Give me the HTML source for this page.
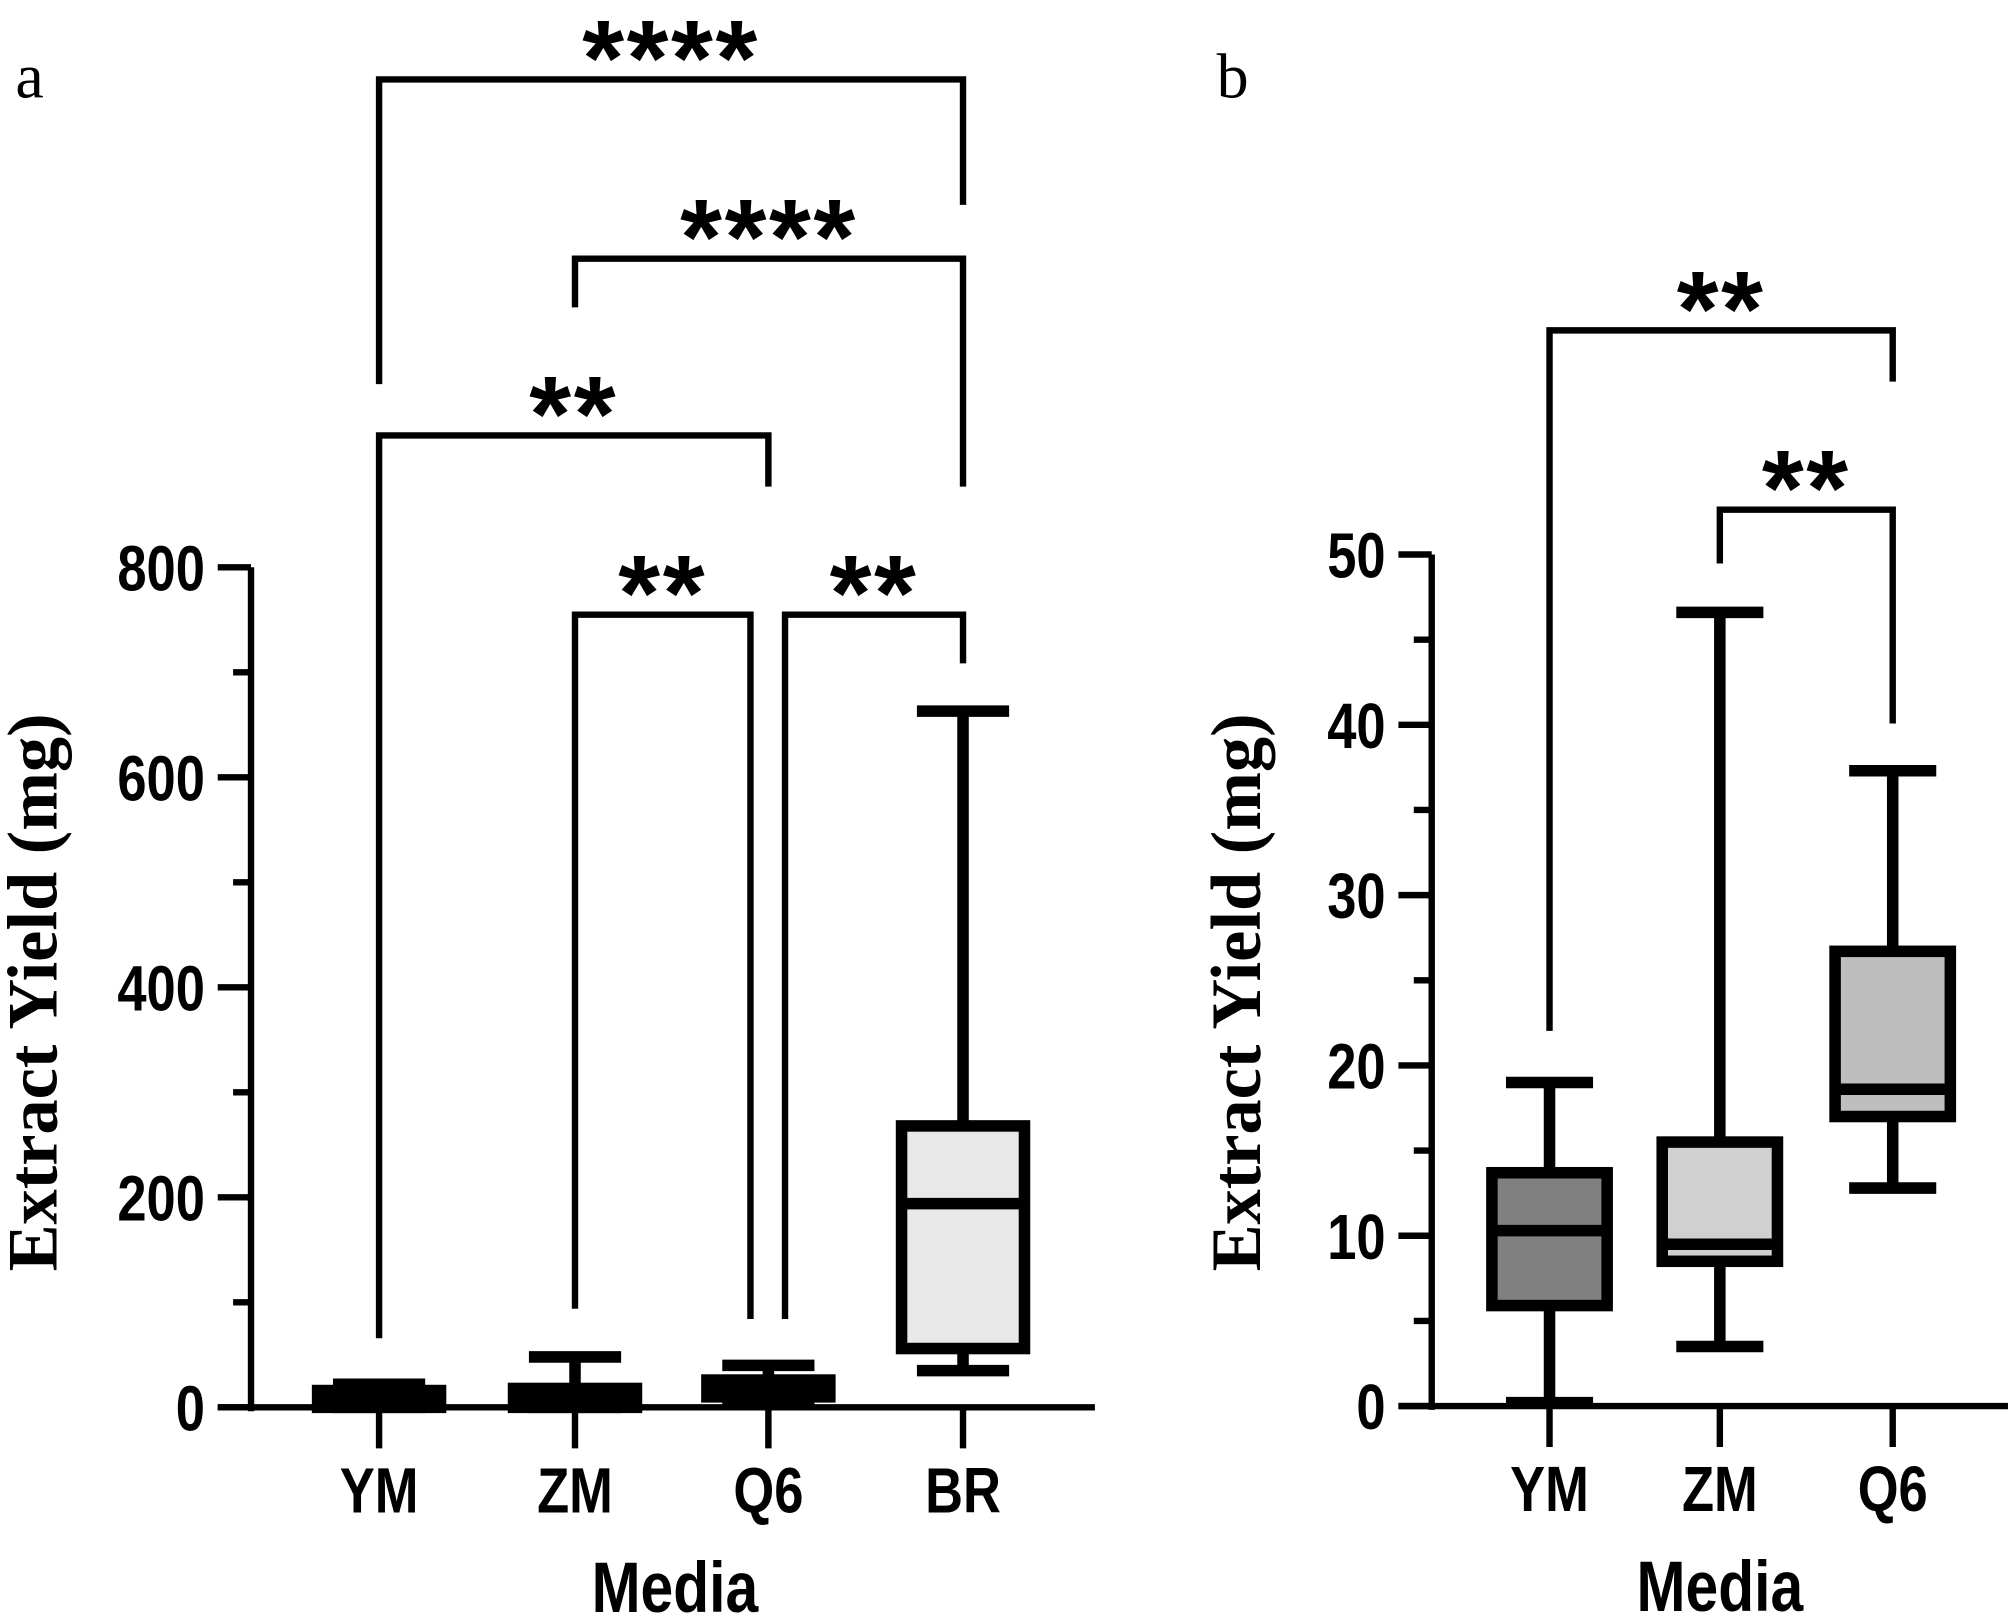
<!DOCTYPE html>
<html><head><meta charset="utf-8"><style>
html,body{margin:0;padding:0;background:#fff;}
svg{display:block;}
text{font-family:"Liberation Sans",Arial,sans-serif;font-weight:bold;fill:#000;}
.serif{font-family:"Liberation Serif","Times New Roman",serif;}
</style></head><body>
<svg id="chart" width="2008" height="1618" viewBox="0 0 1568 1263.5" xmlns="http://www.w3.org/2000/svg">
<text class="serif" x="12" y="76" font-size="50" style="font-weight:normal">a</text>
<text class="serif" x="950" y="76" font-size="50" style="font-weight:normal">b</text>
<g id="pa"></g>
<g id="pb"></g>
</svg>
<script>
// Panel a data
const catsA = ["YM","ZM","Q6","BR"];
const minA = [0, 0, 8, 35];
const q1A = [0, 0, 10, 56];
const medA = [8, 5, 18, 194];
const q3A = [16, 18, 26, 268];
const maxA = [22, 48, 40, 663];
const fillA = ["#000","#000","#000","#e8e8e8"];
const ticksA = [0,200,400,600,800];
// Panel b data
const catsB = ["YM","ZM","Q6"];
const minB = [0.2, 3.5, 12.8];
const q1B = [5.9, 8.5, 17];
const medB = [10.3, 9.5, 18.6];
const q3B = [13.7, 15.5, 26.7];
const maxB = [19, 46.6, 37.3];
const fillB = ["#808080","#d0d0d0","#bebebe"];
const ticksB = [0,10,20,30,40,50];

const NS="http://www.w3.org/2000/svg";
function mk(parent,tag,attrs,txt){const e=document.createElementNS(NS,tag);for(const k in attrs)e.setAttribute(k,attrs[k]);if(txt!==undefined)e.textContent=txt;parent.appendChild(e);return e;}
function ctext(parent,x,y,size,anchor,str,sx){
  return mk(parent,'text',{x:0,y:0,'font-size':size,'text-anchor':anchor,transform:`translate(${x},${y}) scale(${sx||0.82},1)`},str);
}

function panel(g,cfg){
  const y=v=>cfg.y0-(v-cfg.vmin)/(cfg.vmax-cfg.vmin)*(cfg.y0-cfg.y1);
  const x=i=>cfg.xs[i];
  let e=mk(g,'line',{x1:cfg.ax,y1:y(cfg.vmax),x2:cfg.ax,y2:cfg.y0+3,stroke:'#000','stroke-width':5});
  
  
  e=mk(g,'line',{x1:cfg.ax-26,y1:cfg.y0,x2:cfg.xend,y2:cfg.y0,stroke:'#000','stroke-width':5});
  
  
  for(let v=cfg.vmin;v<=cfg.vmax+1e-9;v+=cfg.minor){
    const major=cfg.ticks.indexOf(Math.round(v*1000)/1000)>=0;
    e=mk(g,'line',{x1:cfg.ax-(major?26:14),y1:y(v),x2:cfg.ax,y2:y(v),stroke:'#000','stroke-width':5});
    
    
  }
  cfg.ticks.forEach(t=>{
    const tx=ctext(g,cfg.ax-36,y(t)+18,50,'end',String(t));
    
    
  });
  const yt=mk(g,'text',{class:'serif',x:0,y:0,'font-size':55,'text-anchor':'middle',transform:`translate(${cfg.titleX},${cfg.titleY}) rotate(-90)`},'Extract Yield (mg)');
  
  
  cfg.cats.forEach((c,i)=>{
    e=mk(g,'line',{x1:x(i),y1:cfg.y0,x2:x(i),y2:cfg.y0+32,stroke:'#000','stroke-width':5});
    
    
    const t=ctext(g,x(i),cfg.y0+82,50,'middle',c);
    
    
  });
  const xt=ctext(g,cfg.mediaX,cfg.y0+160,56,'middle','Media');
  
  
  cfg.cats.forEach((c,i)=>{
    const bg=mk(g,'g',{});
    
    
    const cx=x(i),hw=cfg.hw,cw=cfg.cw,sw=9;
    mk(bg,'line',{x1:cx,y1:y(cfg.max[i]),x2:cx,y2:y(cfg.min[i]),stroke:'#000','stroke-width':sw});
    mk(bg,'line',{x1:cx-cw,y1:y(cfg.max[i]),x2:cx+cw,y2:y(cfg.max[i]),stroke:'#000','stroke-width':sw});
    mk(bg,'line',{x1:cx-cw,y1:y(cfg.min[i]),x2:cx+cw,y2:y(cfg.min[i]),stroke:'#000','stroke-width':sw});
    const top=y(cfg.q3[i]),bot=y(cfg.q1[i]);
    mk(bg,'rect',{x:cx-hw,y:top,width:2*hw,height:Math.max(bot-top,0.5),fill:cfg.fill[i],stroke:'#000','stroke-width':sw});
    mk(bg,'line',{x1:cx-hw,y1:y(cfg.med[i]),x2:cx+hw,y2:y(cfg.med[i]),stroke:'#000','stroke-width':sw});
  });
  cfg.br.forEach((b,k)=>{
    const bg=mk(g,'g',{});
    
    
    mk(bg,'polyline',{points:`${b[0]},${b[3]} ${b[0]},${b[2]} ${b[1]},${b[2]} ${b[1]},${b[4]}`,fill:'none',stroke:'#000','stroke-width':5});
    mk(bg,'text',{x:(b[0]+b[1])/2,y:b[2]+12,'font-size':84,'text-anchor':'middle','letter-spacing':2},b[5]);
  });
}

panel(document.getElementById('pa'),{
  cats:catsA,min:minA,q1:q1A,med:medA,q3:q3A,max:maxA,fill:fillA,ticks:ticksA,
  vmin:0,vmax:800,minor:100,y0:1099,y1:443,ax:196,xend:855,xs:[296,449,600,752],
  hw:48,cw:36,titleX:44,titleY:775,mediaX:527,
  br:[[296,752,62,300,160,'****'],[449,752,202,240,380,'****'],[296,600,340,1045,380,'**'],
      [449,586,480,1022,1030,'**'],[613,752,480,1030,518,'**']]
});
panel(document.getElementById('pb'),{
  cats:catsB,min:minB,q1:q1B,med:medB,q3:q3B,max:maxB,fill:fillB,ticks:ticksB,
  vmin:0,vmax:50,minor:5,y0:1098,y1:433,ax:1118,xend:1568,xs:[1210,1343,1478],
  hw:45,cw:34,titleX:984,titleY:775,mediaX:1343,
  br:[[1210,1478,258,805,298,'**'],[1343,1478,398,440,565,'**']]
});
</script>
</body></html>
